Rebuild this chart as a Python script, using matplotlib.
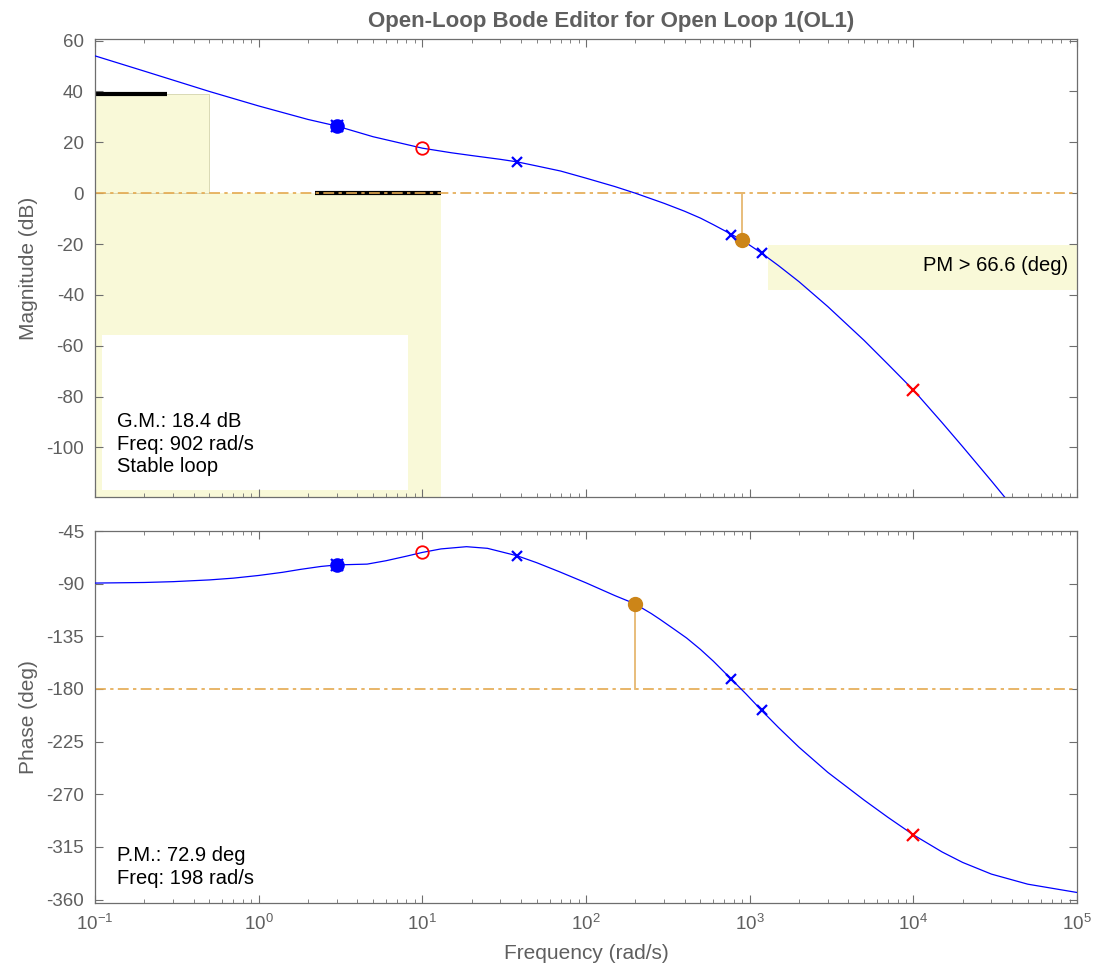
import matplotlib
matplotlib.use("Agg")
import matplotlib.pyplot as plt
from matplotlib.patches import Rectangle

plt.rcParams['font.family'] = ['Liberation Sans', 'DejaVu Sans']
plt.rcParams['axes.unicode_minus'] = False

# magnitude response (rad/s, dB)
mag_freq = [0.1, 0.2, 0.5, 1.0, 2.0, 3.0, 5.0, 10, 15, 20, 30, 38, 50, 70, 100, 150, 200,
            300, 400, 500, 600, 774, 906, 1183, 1500, 2000, 3000, 5000, 7000, 10000,
            15000, 20000, 30000, 40000]
mag_db = [54.0, 48.0, 40.0, 34.3, 29.0, 26.4, 22.2, 17.7, 15.9, 14.8, 13.3, 12.3, 10.7,
          8.7, 5.9, 2.6, 0.0, -4.0, -7.1, -9.8, -12.4, -16.2, -18.6, -23.6, -28.5, -34.8,
          -44.6, -57.9, -67.3, -77.4, -90.3, -99.7, -113.2, -123.0]

# phase response (rad/s, deg)
ph_freq = [0.1, 0.2, 0.3, 0.5, 0.7, 1.0, 1.4, 1.8, 2.4, 3.0, 3.8, 4.6, 6.0, 8.0, 10, 13,
           18.6, 25, 38, 50, 69, 100, 150, 198, 250, 283, 350, 412, 500, 600, 774, 950,
           1183, 1500, 2000, 3000, 5000, 7000, 10000, 15000, 20000, 30000, 50000, 100000]
ph_deg = [-89.5, -89.0, -88.3, -86.8, -85.3, -83.0, -80.3, -77.8, -75.3, -74.0, -73.6,
          -73.3, -70.4, -66.5, -63.3, -60.3, -58.4, -59.8, -66.2, -72.1, -79.9, -89.3,
          -100.2, -107.1, -115.5, -120.5, -129.5, -136.5, -146.2, -156.3, -171.8, -184.3,
          -198.4, -213.0, -229.8, -251.3, -275.0, -289.8, -304.7, -319.4, -328.3, -338.3,
          -346.9, -354.0]

# compensator / plant roots marked on the curves
plant_pole_freq = [38, 774, 1183]
plant_pole_mag = [12.3, -16.3, -23.6]
plant_pole_ph = [-66.2, -171.8, -198.4]
pair_freq, pair_mag, pair_ph = 3.0, 26.4, -74.0
comp_zero_freq, comp_zero_mag, comp_zero_ph = 10, 17.7, -63.3
comp_pole_freq, comp_pole_mag, comp_pole_ph = 10000, -77.4, -304.7

# stability margins
gm_freq, gm_mag = 902, -18.6
pm_freq, pm_ph = 198, -107.1

# shaded constraint regions (freq range, dB range)
box_small = ([0.1, 0.497], [0, 39])
box_big = ([0.1, 12.96], [-119.5, 0])
box_pm = ([1290, 100000], [-38, -20.2])
box_note = ([0.1103, 8.22], [-116.8, -55.8])
black_top = ([0.1, 0.274], [39, 39])
black_zero = ([2.22, 12.96], [0, 0])

xticks = [0.1, 1, 10, 100, 1000, 10000, 100000]
mag_ticks = [-100, -80, -60, -40, -20, 0, 20, 40, 60]
ph_ticks = [-360, -315, -270, -225, -180, -135, -90, -45]

gray = '#6e6e6e'
txtgray = '#5f5f5f'
yellow = '#f9f9d8'
orange = '#e4a94f'
orange_dot = '#cc8518'
stem = '#e6b871'
dashdot = (0, (6.5, 2.6, 2, 2.6))

fig = plt.figure(figsize=(10.97, 9.69), dpi=100)
ax1 = fig.add_axes([0.0866, 0.4871, 0.8952, 0.4723])
ax2 = fig.add_axes([0.0866, 0.0681, 0.8952, 0.3839])


def rect(ax, box, **kw):
    (x0, x1), (y0, y1) = box
    ax.add_patch(Rectangle((x0, y0), x1 - x0, y1 - y0, **kw))


# --- magnitude ---
rect(ax1, box_big, facecolor=yellow, edgecolor='none', zorder=0)
rect(ax1, box_small, facecolor=yellow, edgecolor='#d9d9b5', lw=0.7, zorder=0)
rect(ax1, box_pm, facecolor=yellow, edgecolor='none', zorder=0)
rect(ax1, box_note, facecolor='white', edgecolor='none', zorder=0.5)
ax1.plot(*black_top, color='black', lw=3, solid_capstyle='butt', zorder=1)
ax1.plot(*black_zero, color='black', lw=3, solid_capstyle='butt', zorder=1)
ax1.axhline(0, color=orange, lw=1.2, ls=dashdot, zorder=2)
ax1.plot([gm_freq, gm_freq], [0, gm_mag], color=stem, lw=1.3, zorder=2)
ax1.plot(mag_freq, mag_db, color='#0000ff', lw=0.9, zorder=3)
ax1.plot(gm_freq, gm_mag, 'o', color=orange_dot, ms=10, zorder=4)
ax1.plot(plant_pole_freq, plant_pole_mag, 'x', color='#0000ff', ms=7, mew=1.6, zorder=5)
ax1.plot(pair_freq, pair_mag, 'o', color='#0000ff', ms=9, mew=1.5, zorder=5)
ax1.plot(pair_freq, pair_mag, 'x', color='#0000ff', ms=8, mew=1.6, zorder=5)
ax1.plot(comp_zero_freq, comp_zero_mag, 'o', mfc='none', mec='#ff0000', ms=9, mew=1.3, zorder=5)
ax1.plot(comp_pole_freq, comp_pole_mag, 'x', color='#ff0000', ms=9, mew=1.6, zorder=5)
ax1.text(87900, -28.6, 'PM > 66.6 (deg)', ha='right', va='center', fontsize=14.5, zorder=6)
ax1.text(0.0224, 0.046, 'G.M.: 18.4 dB\nFreq: 902 rad/s\nStable loop', transform=ax1.transAxes,
         ha='left', va='bottom', fontsize=14.5, linespacing=1.22, zorder=6)
ax1.set_ylim(-119.5, 60.5)
ax1.set_yticks(mag_ticks)
ax1.set_ylabel('Magnitude (dB)', fontsize=15, color=txtgray)
ax1.set_title('Open-Loop Bode Editor for Open Loop 1(OL1)', fontsize=16, fontweight='bold',
              color=txtgray, pad=9, x=0.5255)

# --- phase ---
ax2.axhline(-180, color=orange, lw=1.2, ls=dashdot, zorder=2)
ax2.plot([pm_freq, pm_freq], [-180, pm_ph], color=stem, lw=1.3, zorder=2)
ax2.plot(ph_freq, ph_deg, color='#0000ff', lw=0.9, zorder=3)
ax2.plot(pm_freq, pm_ph, 'o', color=orange_dot, ms=10, zorder=4)
ax2.plot(plant_pole_freq, plant_pole_ph, 'x', color='#0000ff', ms=7, mew=1.6, zorder=5)
ax2.plot(pair_freq, pair_ph, 'o', color='#0000ff', ms=9, mew=1.5, zorder=5)
ax2.plot(pair_freq, pair_ph, 'x', color='#0000ff', ms=8, mew=1.6, zorder=5)
ax2.plot(comp_zero_freq, comp_zero_ph, 'o', mfc='none', mec='#ff0000', ms=9, mew=1.3, zorder=5)
ax2.plot(comp_pole_freq, comp_pole_ph, 'x', color='#ff0000', ms=9, mew=1.6, zorder=5)
ax2.text(0.0224, 0.04, 'P.M.: 72.9 deg\nFreq: 198 rad/s', transform=ax2.transAxes,
         ha='left', va='bottom', fontsize=14.5, linespacing=1.3, zorder=6)
ax2.set_ylim(-363, -45)
ax2.set_yticks(ph_ticks)
ax2.set_ylabel('Phase (deg)', fontsize=15, color=txtgray)
ax2.set_xlabel('Frequency (rad/s)', fontsize=15, color=txtgray, labelpad=7)

for ax in (ax1, ax2):
    ax.set_xscale('log')
    ax.set_xlim(0.1, 100000)
    ax.set_xticks(xticks)
    ax.tick_params(which='both', direction='in', top=True, right=True, colors=gray,
                   labelcolor=txtgray, labelsize=13.5, pad=8)
    ax.tick_params(which='major', length=6)
    ax.tick_params(which='minor', length=3)
    for s in ax.spines.values():
        s.set_color(gray)
        s.set_linewidth(0.9)
    ax.yaxis.labelpad = 6
ax1.tick_params(labelbottom=False)

fig.savefig('out.png', dpi=100)
